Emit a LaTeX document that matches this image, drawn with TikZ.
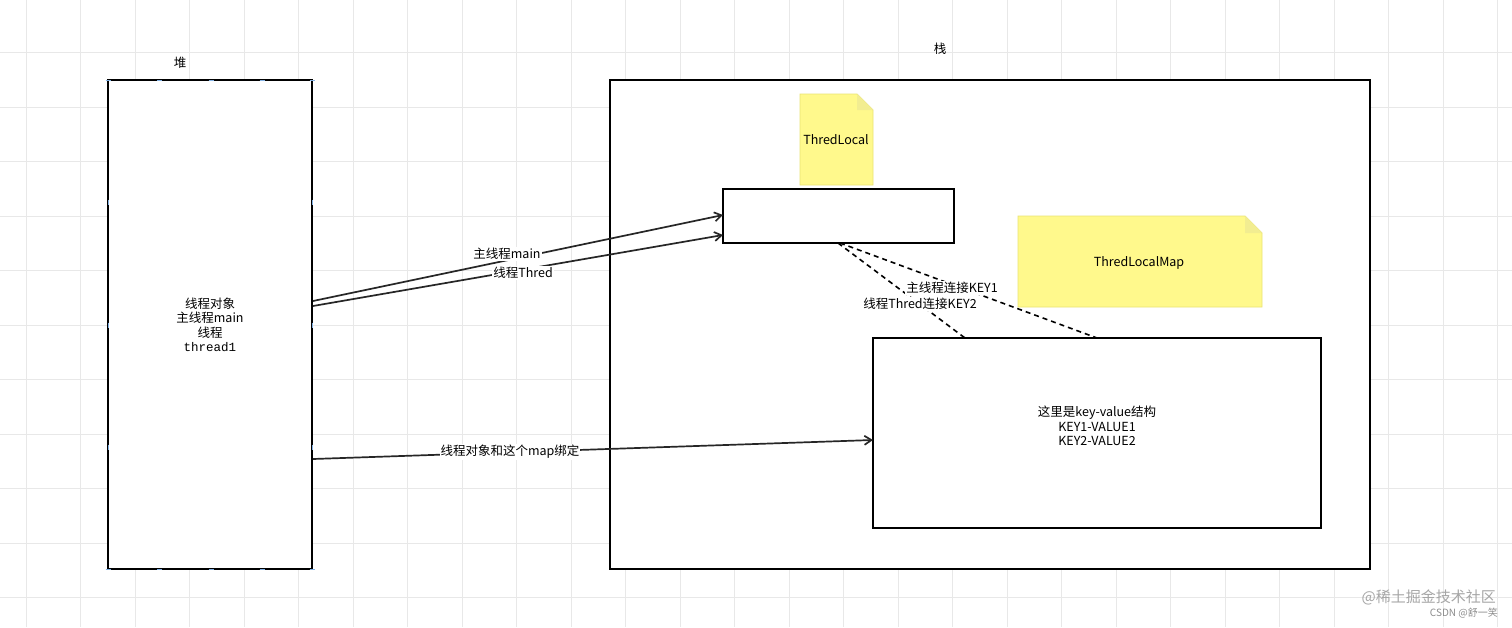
\documentclass[tikz,border=0pt]{standalone}
\usepackage{fontspec}
\usetikzlibrary{arrows.meta}
\setmainfont{Noto Sans CJK SC}
\newfontfamily\monof{Liberation Mono}
\begin{document}
\begin{tikzpicture}[x=1pt,y=-1pt,
  lbl/.style={font=\fontsize{12.5}{14.5}\selectfont,inner sep=1pt},
  wlbl/.style={lbl,fill=white},
  box/.style={draw=black,line width=2pt,fill=white},
  arr/.style={draw=black!85,line width=1.7pt,-{Straight Barb[length=7pt,width=9pt]}},
  dsh/.style={draw=black,line width=1.6pt,dash pattern=on 5pt off 4pt},
  note/.style={fill=yellow!45,draw=yellow!60!olive!50,line width=0.8pt},
  mk/.style={draw=cyan!60!blue!50,line width=1pt}]
\useasboundingbox (0,0) rectangle (1512,627);
\fill[white] (0,0) rectangle (1512,627);
\foreach \i in {0,...,28} {\draw[black!9,line width=0.6pt] (26+\i*54.5,0) -- (26+\i*54.5,627);}
\foreach \j in {0,...,12} {\draw[black!9,line width=0.6pt] (0,-2+\j*54.5) -- (1512,-2+\j*54.5);}
% heap
\node[lbl] (heaplbl) at (180,63) {堆};
\draw[box] (108,80) rectangle (312,569);
\node[lbl,align=center] (heaptxt) at (210,325) {线程对象\\主线程main\\线程\\{\monof thread1}};
\foreach \x in {108,159.5,211,262,312} {\foreach \y in {80,569} {\draw[mk] (\x-2.5,\y) -- (\x+2.5,\y);}}
\foreach \y in {202,325,447} {\foreach \x in {108,312} {\draw[mk] (\x,\y-2.5) -- (\x,\y+2.5);}}
% stack
\node[lbl] (stacklbl) at (940,49) {栈};
\draw[box] (610,80) rectangle (1370,569);
% notes
\draw[note] (800,94) -- (857,94) -- (873,110) -- (873,185) -- (800,185) -- cycle;
\fill[yellow!70!olive!40] (857,94) -- (857,110) -- (873,110) -- cycle;
\node[lbl] (tl) at (836,140) {ThredLocal};
\draw[note] (1018,216) -- (1245,216) -- (1262,233) -- (1262,307) -- (1018,307) -- cycle;
\fill[yellow!70!olive!40] (1245,216) -- (1245,233) -- (1262,233) -- cycle;
\node[lbl] (tlm) at (1139,263) {ThredLocalMap};
% boxes
\node[box,minimum width=231pt,minimum height=54pt,inner sep=0pt] (tlbox) at (838.5,216) {};
\node[box,minimum width=448pt,minimum height=190pt,inner sep=0pt] (map) at (1097,433) {};
\node[lbl,align=center] (maptxt) at (1097,426) {这里是key-value结构\\KEY1-VALUE1\\KEY2-VALUE2};
\coordinate (s1) at (313,301); \coordinate (s2) at (313,306); \coordinate (s3) at (313,459);
\coordinate (t1) at (723,215); \coordinate (t2) at (723,235); \coordinate (t3) at (873,440);
\draw[arr] (s1) -- (t1);
\draw[arr] (s2) -- (t2);
\node[wlbl] (l1) at (507,254) {主线程main};
\node[wlbl] (l2) at (523,273) {线程Thred};
\draw[arr] (s3) -- (t3);
\node[wlbl] (l3) at (510,452) {线程对象和这个map绑定};
\draw[dsh] (838,243) -- (965,338);
\draw[dsh] (840,243) -- (1097,338);
\node[wlbl] (l4) at (952,288) {主线程连接KEY1};
\node[wlbl] (l5) at (920,304) {线程Thred连接KEY2};
% watermark
\node[font=\fontsize{15}{17}\selectfont,text=black!35,anchor=east,inner sep=0pt] (wm1) at (1496,597) {@稀土掘金技术社区};
\node[font=\fontsize{10}{12}\selectfont,text=black!45,anchor=east,inner sep=0pt] (wm2) at (1498,613) {CSDN @舒一笑};
\end{tikzpicture}
\end{document}
